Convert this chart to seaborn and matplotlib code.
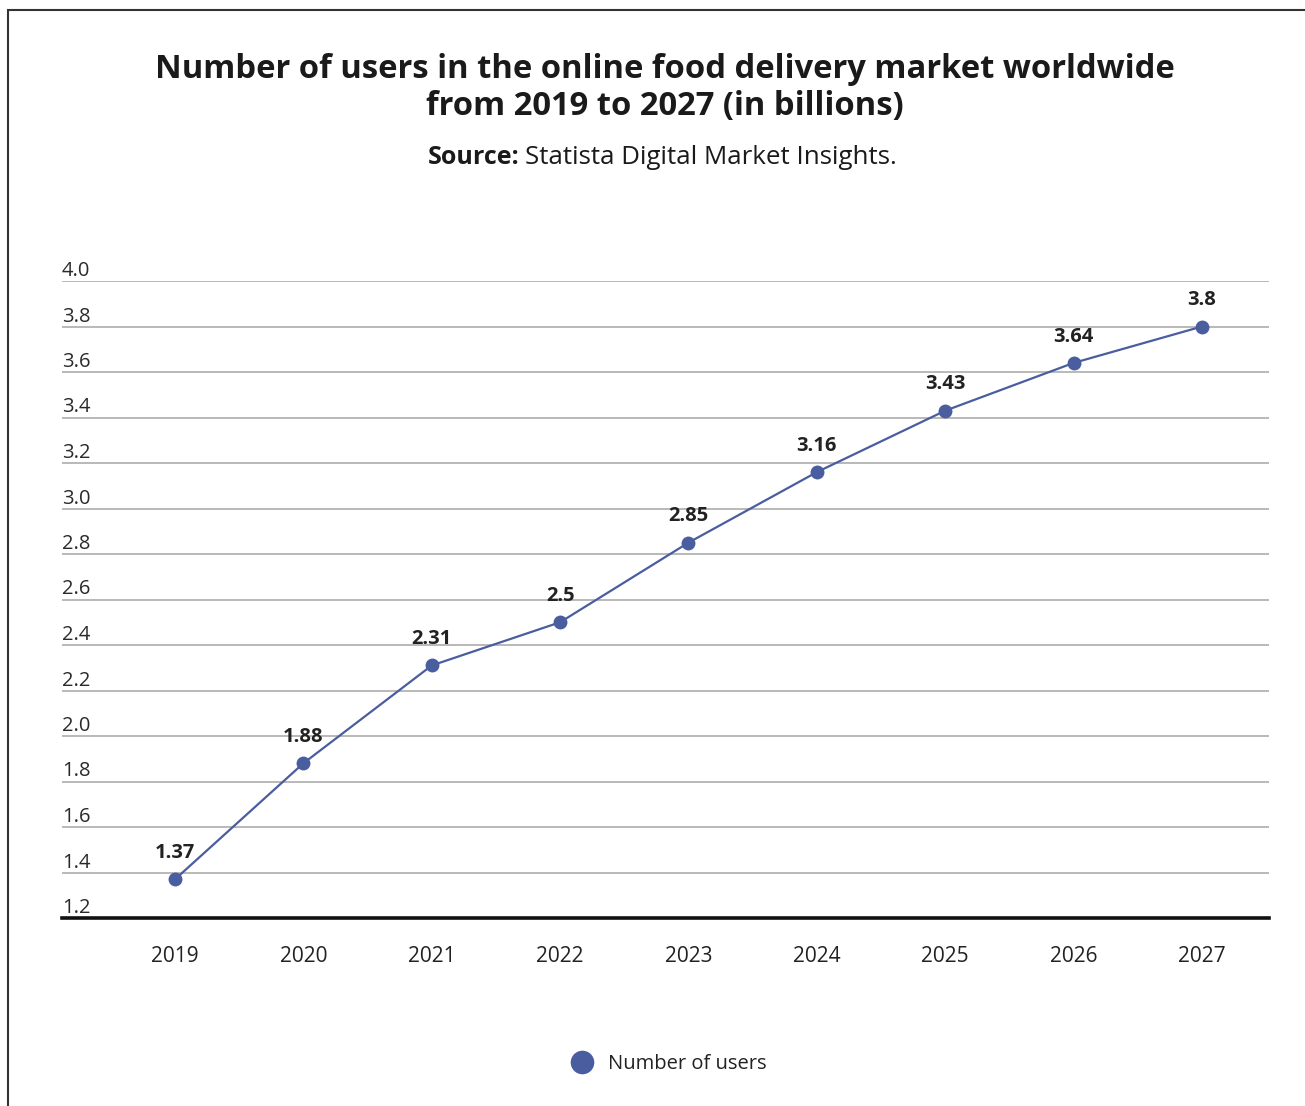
import matplotlib
matplotlib.use("Agg")
import matplotlib.pyplot as plt
import matplotlib.transforms as mtransforms
from matplotlib.patches import Rectangle
from matplotlib.lines import Line2D
import seaborn as sns
import pandas as pd

years = [2019, 2020, 2021, 2022, 2023, 2024, 2025, 2026, 2027]
users = [1.37, 1.88, 2.31, 2.5, 2.85, 3.16, 3.43, 3.64, 3.8]
y_ticks = [1.2, 1.4, 1.6, 1.8, 2.0, 2.2, 2.4, 2.6, 2.8, 3.0, 3.2, 3.4, 3.6, 3.8, 4.0]
title = "Number of users in the online food delivery market worldwide\nfrom 2019 to 2027 (in billions)"
source_bold = "Source:"
source_text = "Statista Digital Market Insights."
series_name = "Number of users"

sns.set_theme(style="white")
plt.rcParams['font.family'] = ['Open Sans', 'DejaVu Sans']

W, H = 1305, 1106
fig = plt.figure(figsize=(W / 100, H / 100), dpi=100)
ax = fig.add_axes([62 / W, 1 - 918 / H, (1269 - 62) / W, (918 - 281) / H])

blue = "#4a5d9f"
df = pd.DataFrame({"year": years, "users": users})
sns.lineplot(data=df, x="year", y="users", ax=ax, color=blue, linewidth=1.6,
             marker="o", markersize=10, markeredgewidth=0, zorder=3)

ax.set_xlim(2019 - 113 / 128.4, 2027 + 67 / 128.4)
ax.set_ylim(1.2, 4.0)
ax.set_xlabel("")
ax.set_ylabel("")

for v in y_ticks[1:]:
    ax.axhline(v, color="#b3b3b3", linewidth=1.3, zorder=1)

trans = mtransforms.blended_transform_factory(ax.transAxes, ax.transData)
off = mtransforms.offset_copy(trans, fig=fig, x=0, y=5, units="dots")
for v in y_ticks:
    ax.text(0, v, f"{v:.1f}", transform=off, ha="left", va="baseline",
            fontsize=14.5, color="#2a2a2a")
ax.set_yticks([])
ax.set_xticks(years)
ax.set_xticklabels([str(y) for y in years], fontsize=15, color="#222222")
ax.tick_params(axis="x", length=0, pad=20)

for s in ["top", "right", "left"]:
    ax.spines[s].set_visible(False)
ax.spines["bottom"].set_color("#111111")
ax.spines["bottom"].set_linewidth(2.6)

for x, y in zip(years, users):
    ax.annotate(f"{y:g}", (x, y), xytext=(0, 19), textcoords="offset points",
                ha="center", va="center", fontsize=14.5, fontweight="bold",
                color="#222222")

fig.text(665 / W, 1 - 88 / H, title, ha="center", va="center", fontsize=23.6,
         fontweight="bold", color="#1a1a1a", linespacing=1.15)
fig.text(519 / W, 1 - 158 / H, source_bold, ha="right", va="center",
         fontsize=18, fontweight="bold", color="#1a1a1a")
fig.text(525 / W, 1 - 158 / H, source_text, ha="left", va="center",
         fontsize=18.6, color="#1a1a1a")

handle = Line2D([], [], linestyle="none", marker="o", markersize=17,
                color=blue, markeredgewidth=0)
fig.legend([handle], [series_name], loc="center", bbox_to_anchor=(664 / W, 1 - 1064 / H),
           frameon=False, fontsize=14.5, handletextpad=0.3, labelcolor="#222222")

fig.patches.append(Rectangle((8 / W, -0.05), 1.2, 1 - 10 / H + 0.05, transform=fig.transFigure,
                             fill=False, edgecolor="#333333", linewidth=1.5))

fig.savefig("out.png", dpi=100, facecolor="white")
